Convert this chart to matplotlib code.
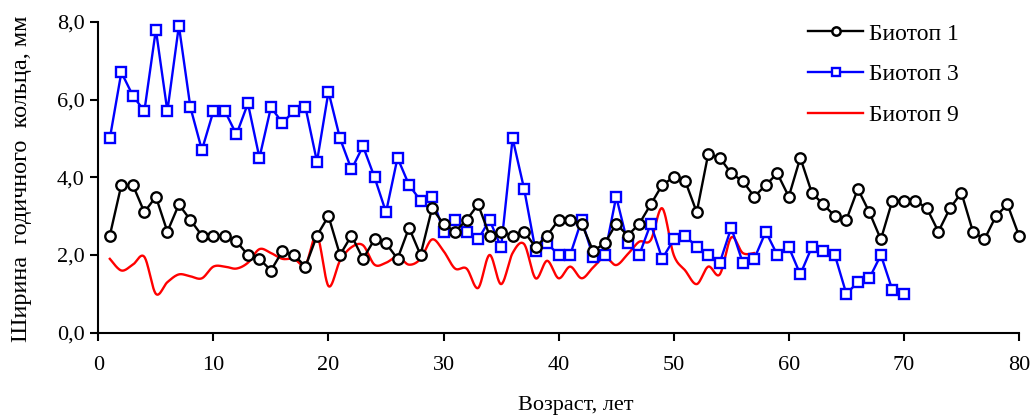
import numpy as np
import matplotlib
matplotlib.use("Agg")
import matplotlib.pyplot as plt
from matplotlib.lines import Line2D

plt.rcParams["font.family"] = ["Liberation Serif", "DejaVu Serif"]

# Age, years
years_b1 = np.arange(1, 81)
years_b3 = np.arange(1, 71)
years_b9 = np.arange(1, 58)

# Ring width, mm
biotop_1 = [2.5, 3.8, 3.8, 3.1, 3.5, 2.6, 3.3, 2.9, 2.5, 2.5,
            2.5, 2.35, 2.0, 1.9, 1.6, 2.1, 2.0, 1.7, 2.5, 3.0,
            2.0, 2.5, 1.9, 2.4, 2.3, 1.9, 2.7, 2.0, 3.2, 2.8,
            2.6, 2.9, 3.3, 2.5, 2.6, 2.5, 2.6, 2.2, 2.5, 2.9,
            2.9, 2.8, 2.1, 2.3, 2.8, 2.5, 2.8, 3.3, 3.8, 4.0,
            3.9, 3.1, 4.6, 4.5, 4.1, 3.9, 3.5, 3.8, 4.1, 3.5,
            4.5, 3.6, 3.3, 3.0, 2.9, 3.7, 3.1, 2.4, 3.4, 3.4,
            3.4, 3.2, 2.6, 3.2, 3.6, 2.6, 2.4, 3.0, 3.3, 2.5]

biotop_3 = [5.0, 6.7, 6.1, 5.7, 7.8, 5.7, 7.9, 5.8, 4.7, 5.7,
            5.7, 5.1, 5.9, 4.5, 5.8, 5.4, 5.7, 5.8, 4.4, 6.2,
            5.0, 4.2, 4.8, 4.0, 3.1, 4.5, 3.8, 3.4, 3.5, 2.6,
            2.9, 2.6, 2.4, 2.9, 2.2, 5.0, 3.7, 2.1, 2.3, 2.0,
            2.0, 2.9, 1.95, 2.0, 3.5, 2.3, 2.0, 2.8, 1.9, 2.4,
            2.5, 2.2, 2.0, 1.8, 2.7, 1.8, 1.9, 2.6, 2.0, 2.2,
            1.5, 2.2, 2.1, 2.0, 1.0, 1.3, 1.4, 2.0, 1.1, 1.0]

biotop_9 = [1.9, 1.6, 1.75, 1.95, 1.0, 1.3, 1.5, 1.45, 1.4, 1.7,
            1.7, 1.65, 1.8, 2.15, 2.05, 1.9, 1.9, 1.75, 2.5, 1.2,
            1.85, 2.2, 2.25, 1.75, 1.8, 1.95, 1.75, 1.9, 2.4, 2.1,
            1.65, 1.65, 1.15, 2.0, 1.25, 2.05, 2.28, 1.4, 1.85, 1.4,
            1.7, 1.4, 1.68, 1.94, 1.74, 2.02, 2.34, 2.38, 3.2, 2.0,
            1.6, 1.25, 1.7, 1.5, 2.45, 2.05, 2.05]

x_ticks = [0, 10, 20, 30, 40, 50, 60, 70, 80]
y_ticks = [0, 2, 4, 6, 8]
y_tick_labels = ["0,0", "2,0", "4,0", "6,0", "8,0"]


def smooth_line(x, y, n=24):
    # Excel-style smoothed line (cubic Bezier through every point)
    pts = np.column_stack([x, y]).astype(float)
    pad = np.vstack([pts[0], pts, pts[-1]])
    t = np.linspace(0, 1, n)[:, None]
    out = []
    for i in range(len(pts) - 1):
        p0, p1, p2, p3 = pad[i], pad[i + 1], pad[i + 2], pad[i + 3]
        b1 = p1 + (p2 - p0) / 6
        b2 = p2 - (p3 - p1) / 6
        seg = (1 - t) ** 3 * p1 + 3 * (1 - t) ** 2 * t * b1 + 3 * (1 - t) * t ** 2 * b2 + t ** 3 * p2
        out.append(seg if i == 0 else seg[1:])
    out = np.vstack(out)
    return out[:, 0], out[:, 1]


fig = plt.figure(figsize=(10.35, 4.19), dpi=100)
ax = fig.add_axes([0.095, 0.206, 0.8895, 0.742])

sx, sy = smooth_line(years_b9, biotop_9)
ax.plot(sx, sy, color="#ff0000", lw=1.7, zorder=2, clip_on=False)
ax.plot(years_b3, biotop_3, color="#0000ff", lw=1.7, marker="s", ms=6.5,
        mfc="white", mec="#0000ff", mew=1.7, zorder=3, clip_on=False)
ax.plot(years_b1, biotop_1, color="black", lw=1.7, marker="o", ms=7.5,
        mfc="white", mec="black", mew=1.7, zorder=4, clip_on=False)

ax.set_xlim(0, 80)
ax.set_ylim(0, 8)
ax.set_xticks(x_ticks)
ax.set_yticks(y_ticks)
ax.set_yticklabels(y_tick_labels)
for s in ["top", "right"]:
    ax.spines[s].set_visible(False)
for s in ["left", "bottom"]:
    ax.spines[s].set_linewidth(1.5)
ax.tick_params(axis="both", direction="out", length=6, width=1.5, labelsize=16)
ax.tick_params(axis="x", pad=11)
ax.tick_params(axis="y", pad=4)

fig.text(0.0208, 0.574, "Ширина  годичного  кольца, мм", rotation=90,
         ha="center", va="center", fontsize=17.5)
fig.text(0.5565, 0.033, "Возраст, лет", ha="center", va="center", fontsize=16)

handles = [
    Line2D([], [], color="black", lw=1.7, marker="o", ms=6, mfc="white", mew=1.8),
    Line2D([], [], color="#0000ff", lw=1.7, marker="s", ms=5.5, mfc="white", mew=1.7),
    Line2D([], [], color="#ff0000", lw=1.7),
]
ax.legend(handles, ["Биотоп 1", "Биотоп 3", "Биотоп 9"], loc="upper left",
          bbox_to_anchor=(808 / 1035, 1 - 23 / 419), bbox_transform=fig.transFigure,
          frameon=False, fontsize=17, handlelength=2.33, handletextpad=0.25,
          labelspacing=0.82, borderpad=0, borderaxespad=0)

fig.savefig("out.png", dpi=100)
